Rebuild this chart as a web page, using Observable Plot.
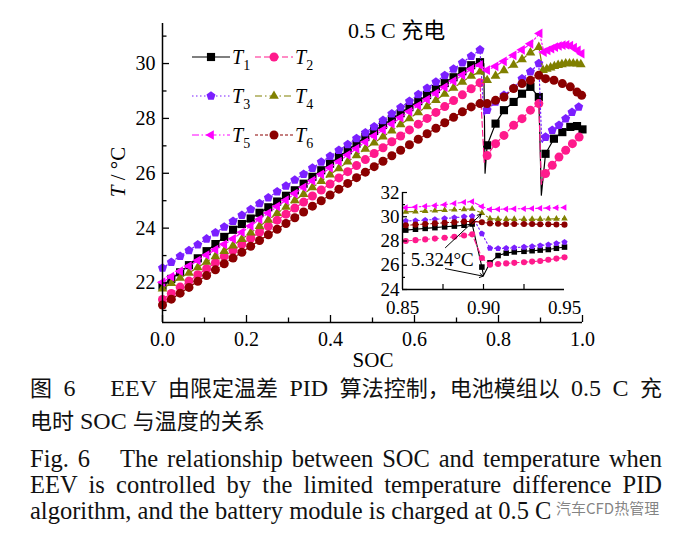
<!DOCTYPE html>
<html>
<head>
<meta charset="utf-8">
<script src="https://cdn.jsdelivr.net/npm/d3@7"></script>
<script src="https://cdn.jsdelivr.net/npm/@observablehq/plot@0.6"></script>
<style>
  html,body{margin:0;padding:0;background:#fff;}
  #wrap{position:relative;width:689px;height:535px;overflow:hidden;background:#fff;}
  #chart{position:absolute;left:0;top:0;}
  #inset{position:absolute;left:370px;top:178px;}
  .cap{position:absolute;left:30px;width:632px;font-family:"Liberation Serif","Noto Sans CJK SC",serif;color:#111;}
  .cn{top:371px;font-size:24px;line-height:31px;}
  .cn .k{display:inline-block;font-family:"Noto Sans CJK SC",sans-serif;font-size:22px;}
  .en{top:446px;font-size:24.5px;line-height:26px;}
  .jl{text-align:justify;text-align-last:justify;}
  .wm{position:absolute;left:556px;top:497px;font-family:"Noto Sans CJK SC",sans-serif;font-size:15px;color:rgba(110,110,110,0.85);}
</style>
</head>
<body>
<div id="wrap">
  <div id="chart"></div>
  <div id="inset"></div>
  <div class="cap cn"><div class="jl"><span class="k">图</span> 6　EEV <span class="k">由限定温差</span> PID <span class="k">算法控制，电池模组以</span> 0.5 C <span class="k">充</span></div><div><span class="k">电时</span> SOC <span class="k">与温度的关系</span></div></div>
  <div class="cap en"><div class="jl">Fig. 6　The relationship between SOC and temperature when</div><div class="jl">EEV is controlled by the limited temperature difference PID</div><div>algorithm, and the battery module is charged at 0.5 C</div></div>
  <div class="wm">汽车CFD热管理</div>
</div>
<script>
// ---------- data (main chart) ----------
const socLin = [0, 0.021, 0.042, 0.063, 0.084, 0.105, 0.126, 0.147, 0.168, 0.189, 0.21, 0.231, 0.252, 0.273, 0.294, 0.315, 0.336, 0.357, 0.378, 0.399, 0.42, 0.441, 0.462, 0.483, 0.504, 0.525, 0.546, 0.567, 0.588, 0.609, 0.63, 0.651, 0.672, 0.693, 0.714, 0.735, 0.756];

const t1Lin = [21.9, 22.15, 22.39, 22.65, 22.9, 23.16, 23.42, 23.68, 23.94, 24.15, 24.35, 24.56, 24.76, 24.97, 25.18, 25.38, 25.62, 25.87, 26.11, 26.35, 26.59, 26.84, 27.08, 27.32, 27.54, 27.76, 27.97, 28.19, 28.41, 28.63, 28.85, 29.07, 29.29, 29.5, 29.72, 29.94, 30.05];
const t2Lin = [21.4, 21.62, 21.85, 22.07, 22.3, 22.52, 22.74, 22.97, 23.19, 23.41, 23.63, 23.85, 24.07, 24.29, 24.51, 24.73, 24.95, 25.17, 25.39, 25.61, 25.83, 26.06, 26.28, 26.5, 26.72, 26.93, 27.15, 27.36, 27.58, 27.79, 28.0, 28.22, 28.43, 28.65, 28.86, 29.08, 29.3];
const t3Lin = [22.55, 22.76, 22.98, 23.19, 23.4, 23.61, 23.83, 24.04, 24.25, 24.47, 24.68, 24.9, 25.11, 25.33, 25.54, 25.76, 25.97, 26.19, 26.41, 26.62, 26.84, 27.05, 27.27, 27.48, 27.7, 27.93, 28.17, 28.4, 28.63, 28.87, 29.1, 29.33, 29.57, 29.8, 30.03, 30.27, 30.5];
const t4Lin = [21.79, 21.99, 22.18, 22.37, 22.57, 22.77, 22.97, 23.16, 23.36, 23.6, 23.83, 24.07, 24.3, 24.54, 24.77, 25.01, 25.24, 25.48, 25.71, 25.95, 26.18, 26.42, 26.65, 26.89, 27.11, 27.33, 27.55, 27.78, 28.0, 28.22, 28.44, 28.66, 28.89, 29.11, 29.33, 29.55, 29.7];
const t5Lin = [22.03, 22.23, 22.43, 22.62, 22.82, 23.02, 23.22, 23.41, 23.61, 23.85, 24.08, 24.32, 24.55, 24.79, 25.02, 25.26, 25.49, 25.73, 25.96, 26.2, 26.43, 26.67, 26.9, 27.14, 27.36, 27.58, 27.8, 28.03, 28.25, 28.47, 28.69, 28.91, 29.14, 29.36, 29.58, 29.8, 29.95];
const t6Lin = [21.2, 21.41, 21.63, 21.84, 22.06, 22.27, 22.48, 22.7, 22.91, 23.12, 23.34, 23.55, 23.76, 23.96, 24.17, 24.38, 24.59, 24.8, 25.0, 25.21, 25.42, 25.63, 25.84, 26.04, 26.24, 26.44, 26.64, 26.84, 27.04, 27.24, 27.44, 27.64, 27.84, 28.04, 28.24, 28.42, 28.54];

const t1TailSoc = [0.773, 0.793, 0.813, 0.836, 0.856, 0.876, 0.896, 0.912, 0.932, 0.952, 0.971, 0.987, 1.0];
const t1TailVal = [27.02, 27.81, 28.3, 28.6, 28.9, 29.15, 28.78, 26.71, 27.26, 27.5, 27.69, 27.72, 27.6];
const t2TailSoc = [0.773, 0.793, 0.813, 0.836, 0.856, 0.876, 0.896, 0.912, 0.928, 0.944, 0.96, 0.976, 0.992];
const t2TailVal = [26.65, 27.08, 27.38, 27.75, 27.99, 28.3, 28.54, 25.99, 26.29, 26.59, 26.84, 27.08, 27.32];
const t3TailSoc = [0.773, 0.793, 0.813, 0.836, 0.856, 0.876, 0.896, 0.912, 0.928, 0.944, 0.96, 0.975, 0.991];
const t3TailVal = [28.3, 28.6, 28.85, 29.1, 29.45, 29.7, 30.0, 27.32, 27.57, 27.75, 27.99, 28.23, 28.42];
const t4TailSoc = [0.773, 0.793, 0.813, 0.836, 0.856, 0.876, 0.896, 0.906, 0.915, 0.924, 0.933, 0.942, 0.951, 0.96, 0.969, 0.978, 0.987, 0.996];
const t4TailVal = [29.39, 29.55, 29.75, 29.95, 30.15, 30.4, 30.6, 29.76, 29.8, 29.85, 29.9, 29.94, 29.97, 30.0, 30.0, 30.0, 29.99, 29.97];
const t5TailSoc = [0.773, 0.793, 0.813, 0.836, 0.856, 0.876, 0.898, 0.908, 0.917, 0.926, 0.935, 0.944, 0.953, 0.962, 0.971, 0.98, 0.989, 0.998];
const t5TailVal = [29.76, 29.9, 30.08, 30.3, 30.5, 30.72, 31.1, 30.42, 30.48, 30.54, 30.6, 30.64, 30.67, 30.68, 30.65, 30.58, 30.48, 30.36];
const t6TailSoc = [0.773, 0.793, 0.813, 0.836, 0.856, 0.876, 0.896, 0.912, 0.932, 0.952, 0.971, 0.987, 0.998];
const t6TailVal = [28.54, 28.66, 28.78, 29.09, 29.27, 29.39, 29.57, 29.45, 29.39, 29.27, 29.15, 28.96, 28.84];

// line-only points at the sharp drops (no marker drawn there)
const t1DropSoc = [0.765, 0.768, 0.902];
const t1DropVal = [30.0, 26.0, 25.2];
const t2DropSoc = [0.766, 0.902];
const t2DropVal = [26.4, 25.6];
const t3DropSoc = [0.765, 0.903];
const t3DropVal = [28.1, 27.1];

// ---------- data (inset) ----------
const insetSoc = [0.852, 0.858, 0.864, 0.87, 0.876, 0.882, 0.888, 0.893, 0.899, 0.904, 0.909, 0.914, 0.919, 0.925, 0.93, 0.935, 0.94, 0.945, 0.95];
const in1 = [28.9, 28.97, 29.04, 29.1, 29.17, 29.23, 29.3, 29.4, 25.85, 26.2, 26.8, 27.0, 27.1, 27.15, 27.2, 27.25, 27.3, 27.4, 27.5];
const in2 = [28.0, 28.07, 28.13, 28.2, 28.27, 28.35, 28.45, 28.55, 26.6, 26.05, 26.1, 26.15, 26.2, 26.25, 26.3, 26.35, 26.45, 26.55, 26.65];
const in3 = [29.65, 29.68, 29.72, 29.78, 29.85, 29.92, 30.0, 30.05, 28.6, 27.4, 27.38, 27.4, 27.45, 27.5, 27.55, 27.62, 27.7, 27.8, 27.9];
const in4 = [30.4, 30.43, 30.46, 30.5, 30.54, 30.58, 30.62, 30.65, 30.3, 29.85, 29.8, 29.8, 29.8, 29.8, 29.8, 29.8, 29.82, 29.83, 29.85];
const in5 = [30.75, 30.8, 30.86, 30.92, 31.0, 31.1, 31.2, 31.25, 30.85, 30.6, 30.62, 30.63, 30.65, 30.66, 30.68, 30.7, 30.72, 30.74, 30.76];
const in6 = [29.3, 29.35, 29.4, 29.45, 29.5, 29.55, 29.6, 29.62, 29.55, 29.45, 29.42, 29.4, 29.4, 29.4, 29.4, 29.38, 29.38, 29.36, 29.35];
const in1DropSoc = [0.9];
const in1DropVal = [25.15];

// annotation of the maximum temperature difference (inset)
const annotLabel = "5.324°C";
const annotTextPos = [0.8745, 25.95];
const annotArrowFrom = [[0.8765, 27.45], [0.8765, 25.72]];
const annotArrowTo = [[0.8985, 30.2], [0.8998, 25.1]];

// ticks
const xMajor = [0, 0.2, 0.4, 0.6, 0.8, 1.0];
const xMinor = [0.1, 0.3, 0.5, 0.7, 0.9];
const yMajor = [22, 24, 26, 28, 30];
const yMinor = [21, 23, 25, 27, 29, 31];
const insXLabels = [0.85, 0.9, 0.95];
const insXTicks = [0.875, 0.9, 0.925];
const insYMajor = [24, 26, 28, 30, 32];
const insYMinor = [25, 27, 29, 31];

const seriesNames = ["1", "2", "3", "4", "5", "6"];
const seriesColors = ["#000000", "#ff1a8c", "#7b1fff", "#808000", "#ff00ff", "#8b0000"];
const seriesDash = [null, "6,3", "1.5,2.5", "7,3,1.5,3", "7,2.5,1.5,2.5,1.5,2.5", "3,2"];

// ---------- symbols ----------
const pentagon = {draw(ctx, size) {
  const r = Math.sqrt(size / 2.3776);
  for (let i = 0; i < 5; i++) {
    const a = -Math.PI / 2 + i * 2 * Math.PI / 5;
    const x = r * Math.cos(a), y = r * Math.sin(a);
    if (i) ctx.lineTo(x, y); else ctx.moveTo(x, y);
  }
  ctx.closePath();
}};
const triLeft = {draw(ctx, size) {
  const r = Math.sqrt(size / 1.299);
  ctx.moveTo(-r, 0);
  ctx.lineTo(r / 2, -r * 0.866);
  ctx.lineTo(r / 2, r * 0.866);
  ctx.closePath();
}};
const seriesSymbols = [d3.symbolSquare, d3.symbolCircle, pentagon, d3.symbolTriangle, triLeft, d3.symbolCircle];
const seriesR = [4.6, 4.5, 4.1, 3.6, 3.6, 4.5];

const lins = [t1Lin, t2Lin, t3Lin, t4Lin, t5Lin, t6Lin];
const tailSocs = [t1TailSoc, t2TailSoc, t3TailSoc, t4TailSoc, t5TailSoc, t6TailSoc];
const tailVals = [t1TailVal, t2TailVal, t3TailVal, t4TailVal, t5TailVal, t6TailVal];
const dropSocs = [t1DropSoc, t2DropSoc, t3DropSoc, [], [], []];
const dropVals = [t1DropVal, t2DropVal, t3DropVal, [], [], []];
const insVals = [in1, in2, in3, in4, in5, in6];
const insDropSocs = [in1DropSoc, [], [], [], [], []];
const insDropVals = [in1DropVal, [], [], [], [], []];

const series = seriesNames.map((n, k) => {
  const markers = socLin.map((s, i) => ({soc: s, t: lins[k][i]}))
    .concat(tailSocs[k].map((s, i) => ({soc: s, t: tailVals[k][i]})));
  const line = markers.concat(dropSocs[k].map((s, i) => ({soc: s, t: dropVals[k][i]})))
    .sort((a, b) => a.soc - b.soc);
  const insMarkers = insetSoc.map((s, i) => ({soc: s, t: insVals[k][i]}));
  const insLine = insMarkers.concat(insDropSocs[k].map((s, i) => ({soc: s, t: insDropVals[k][i]})))
    .sort((a, b) => a.soc - b.soc);
  return {name: n, color: seriesColors[k], dash: seriesDash[k], symbol: seriesSymbols[k], r: seriesR[k], markers, line, insMarkers, insLine};
});

// ---------- main plot ----------
const W = 689, H = 375, mL = 162, mR = 107, mT = 23, mB = 53;
const innerW = W - mL - mR, innerH = H - mT - mB;
const yDom = [20.56, 31.46];

const marks = [];
series.forEach(s => {
  marks.push(Plot.line(s.line, {x: "soc", y: "t", stroke: s.color, strokeWidth: 1.2, strokeDasharray: s.dash}));
  marks.push(Plot.dot(s.markers, {x: "soc", y: "t", symbol: s.symbol, r: s.r, fill: s.color, stroke: "none"}));
});
marks.push(
  Plot.ruleX([0], {stroke: "#000", strokeWidth: 1.5}),
  Plot.ruleY([yDom[0]], {stroke: "#000", strokeWidth: 1.5}),
  Plot.tickX(xMajor, {x: d => d, insetTop: innerH - 7, stroke: "#000", strokeWidth: 1.3}),
  Plot.tickX(xMinor, {x: d => d, insetTop: innerH - 4.5, stroke: "#000", strokeWidth: 1.3}),
  Plot.tickY(yMajor, {y: d => d, insetRight: innerW - 7, stroke: "#000", strokeWidth: 1.3}),
  Plot.tickY(yMinor, {y: d => d, insetRight: innerW - 4.5, stroke: "#000", strokeWidth: 1.3}),
  Plot.axisX(xMajor, {tickSize: 0, tickPadding: 9, tickFormat: d3.format(".1f"), label: null, fontSize: 20}),
  Plot.axisY(yMajor, {tickSize: 0, tickPadding: 7, label: null, fontSize: 20})
);

const main = Plot.plot({
  width: W, height: H, marginLeft: mL, marginRight: mR, marginTop: mT, marginBottom: mB,
  x: {domain: [0, 1]}, y: {domain: yDom},
  style: {fontFamily: "Liberation Serif", fontSize: "20px", color: "#000", background: "transparent"},
  marks
});
document.getElementById("chart").appendChild(main);

const svg = d3.select(main);
const serif = '"Liberation Serif","Noto Sans CJK SC",serif';
svg.append("text").attr("x", 348).attr("y", 38).attr("text-anchor", "start")
  .attr("font-family", serif).attr("font-size", 22).attr("fill", "#000").text("0.5 C 充电");
const yl = svg.append("text").attr("transform", "translate(125,172) rotate(-90)").attr("text-anchor", "middle")
  .attr("font-family", serif).attr("font-size", 21).attr("fill", "#000");
yl.append("tspan").attr("font-style", "italic").text("T");
yl.append("tspan").text(" / °C");
svg.append("text").attr("x", 373).attr("y", 367).attr("text-anchor", "middle")
  .attr("font-family", serif).attr("font-size", 21).attr("fill", "#000").text("SOC");

// legend
const legColX = [192, 255], legRowY = [57, 96, 135], legLen = 38;
series.forEach((s, k) => {
  const x0 = legColX[k % 2], y0 = legRowY[Math.floor(k / 2)];
  const g = svg.append("g");
  g.append("line").attr("x1", x0).attr("x2", x0 + legLen).attr("y1", y0).attr("y2", y0)
    .attr("stroke", s.color).attr("stroke-width", 1.2).attr("stroke-dasharray", s.dash);
  g.append("path").attr("transform", `translate(${x0 + legLen / 2},${y0})`)
    .attr("d", d3.symbol().type(s.symbol).size(Math.PI * s.r * s.r)()).attr("fill", s.color);
  const t = g.append("text").attr("x", x0 + legLen + 2).attr("y", y0 + 7).attr("text-anchor", "start")
    .attr("font-family", serif).attr("font-size", 20).attr("fill", "#000");
  t.append("tspan").attr("font-style", "italic").text("T");
  t.append("tspan").attr("font-size", 14).attr("dy", 6).text(s.name);
});

// ---------- inset plot ----------
const iW = 216, iH = 145, imL = 32, imR = 22, imT = 14, imB = 34;
const iInnerW = iW - imL - imR, iInnerH = iH - imT - imB;
const iMarks = [];
series.forEach(s => {
  iMarks.push(Plot.line(s.insLine, {x: "soc", y: "t", stroke: s.color, strokeWidth: 1.1, strokeDasharray: s.dash}));
  iMarks.push(Plot.dot(s.insMarkers, {x: "soc", y: "t", symbol: s.symbol, r: s.r * 0.68, fill: s.color, stroke: "none"}));
});
iMarks.push(
  Plot.ruleX([0.85], {stroke: "#000", strokeWidth: 1.4}),
  Plot.ruleY([24], {stroke: "#000", strokeWidth: 1.4}),
  Plot.tickX(insXTicks, {x: d => d, insetTop: iInnerH - 5, stroke: "#000", strokeWidth: 1.2}),
  Plot.tickY(insYMajor, {y: d => d, insetRight: iInnerW - 5, stroke: "#000", strokeWidth: 1.2}),
  Plot.tickY(insYMinor, {y: d => d, insetRight: iInnerW - 3, stroke: "#000", strokeWidth: 1.2}),
  Plot.axisX(insXLabels, {tickSize: 0, tickPadding: 11, tickFormat: d3.format(".2f"), label: null, fontSize: 19}),
  Plot.axisY(insYMajor, {tickSize: 0, tickPadding: 3, label: null, fontSize: 19}),
  Plot.arrow([0, 1], {x1: i => annotArrowFrom[i][0], y1: i => annotArrowFrom[i][1], x2: i => annotArrowTo[i][0], y2: i => annotArrowTo[i][1], stroke: "#000", strokeWidth: 1, headLength: 6}),
  Plot.text([annotLabel], {x: annotTextPos[0], y: annotTextPos[1], text: d => d, fontSize: 19, fontFamily: "Liberation Serif", fill: "#000", lineAnchor: "bottom"})
);
const inset = Plot.plot({
  width: iW, height: iH, marginLeft: imL, marginRight: imR, marginTop: imT, marginBottom: imB,
  x: {domain: [0.85, 0.95]}, y: {domain: [24, 32]},
  style: {fontFamily: "Liberation Serif", fontSize: "19px", color: "#000", background: "transparent"},
  marks: iMarks
});
document.getElementById("inset").appendChild(inset);
</script>
</body>
</html>
